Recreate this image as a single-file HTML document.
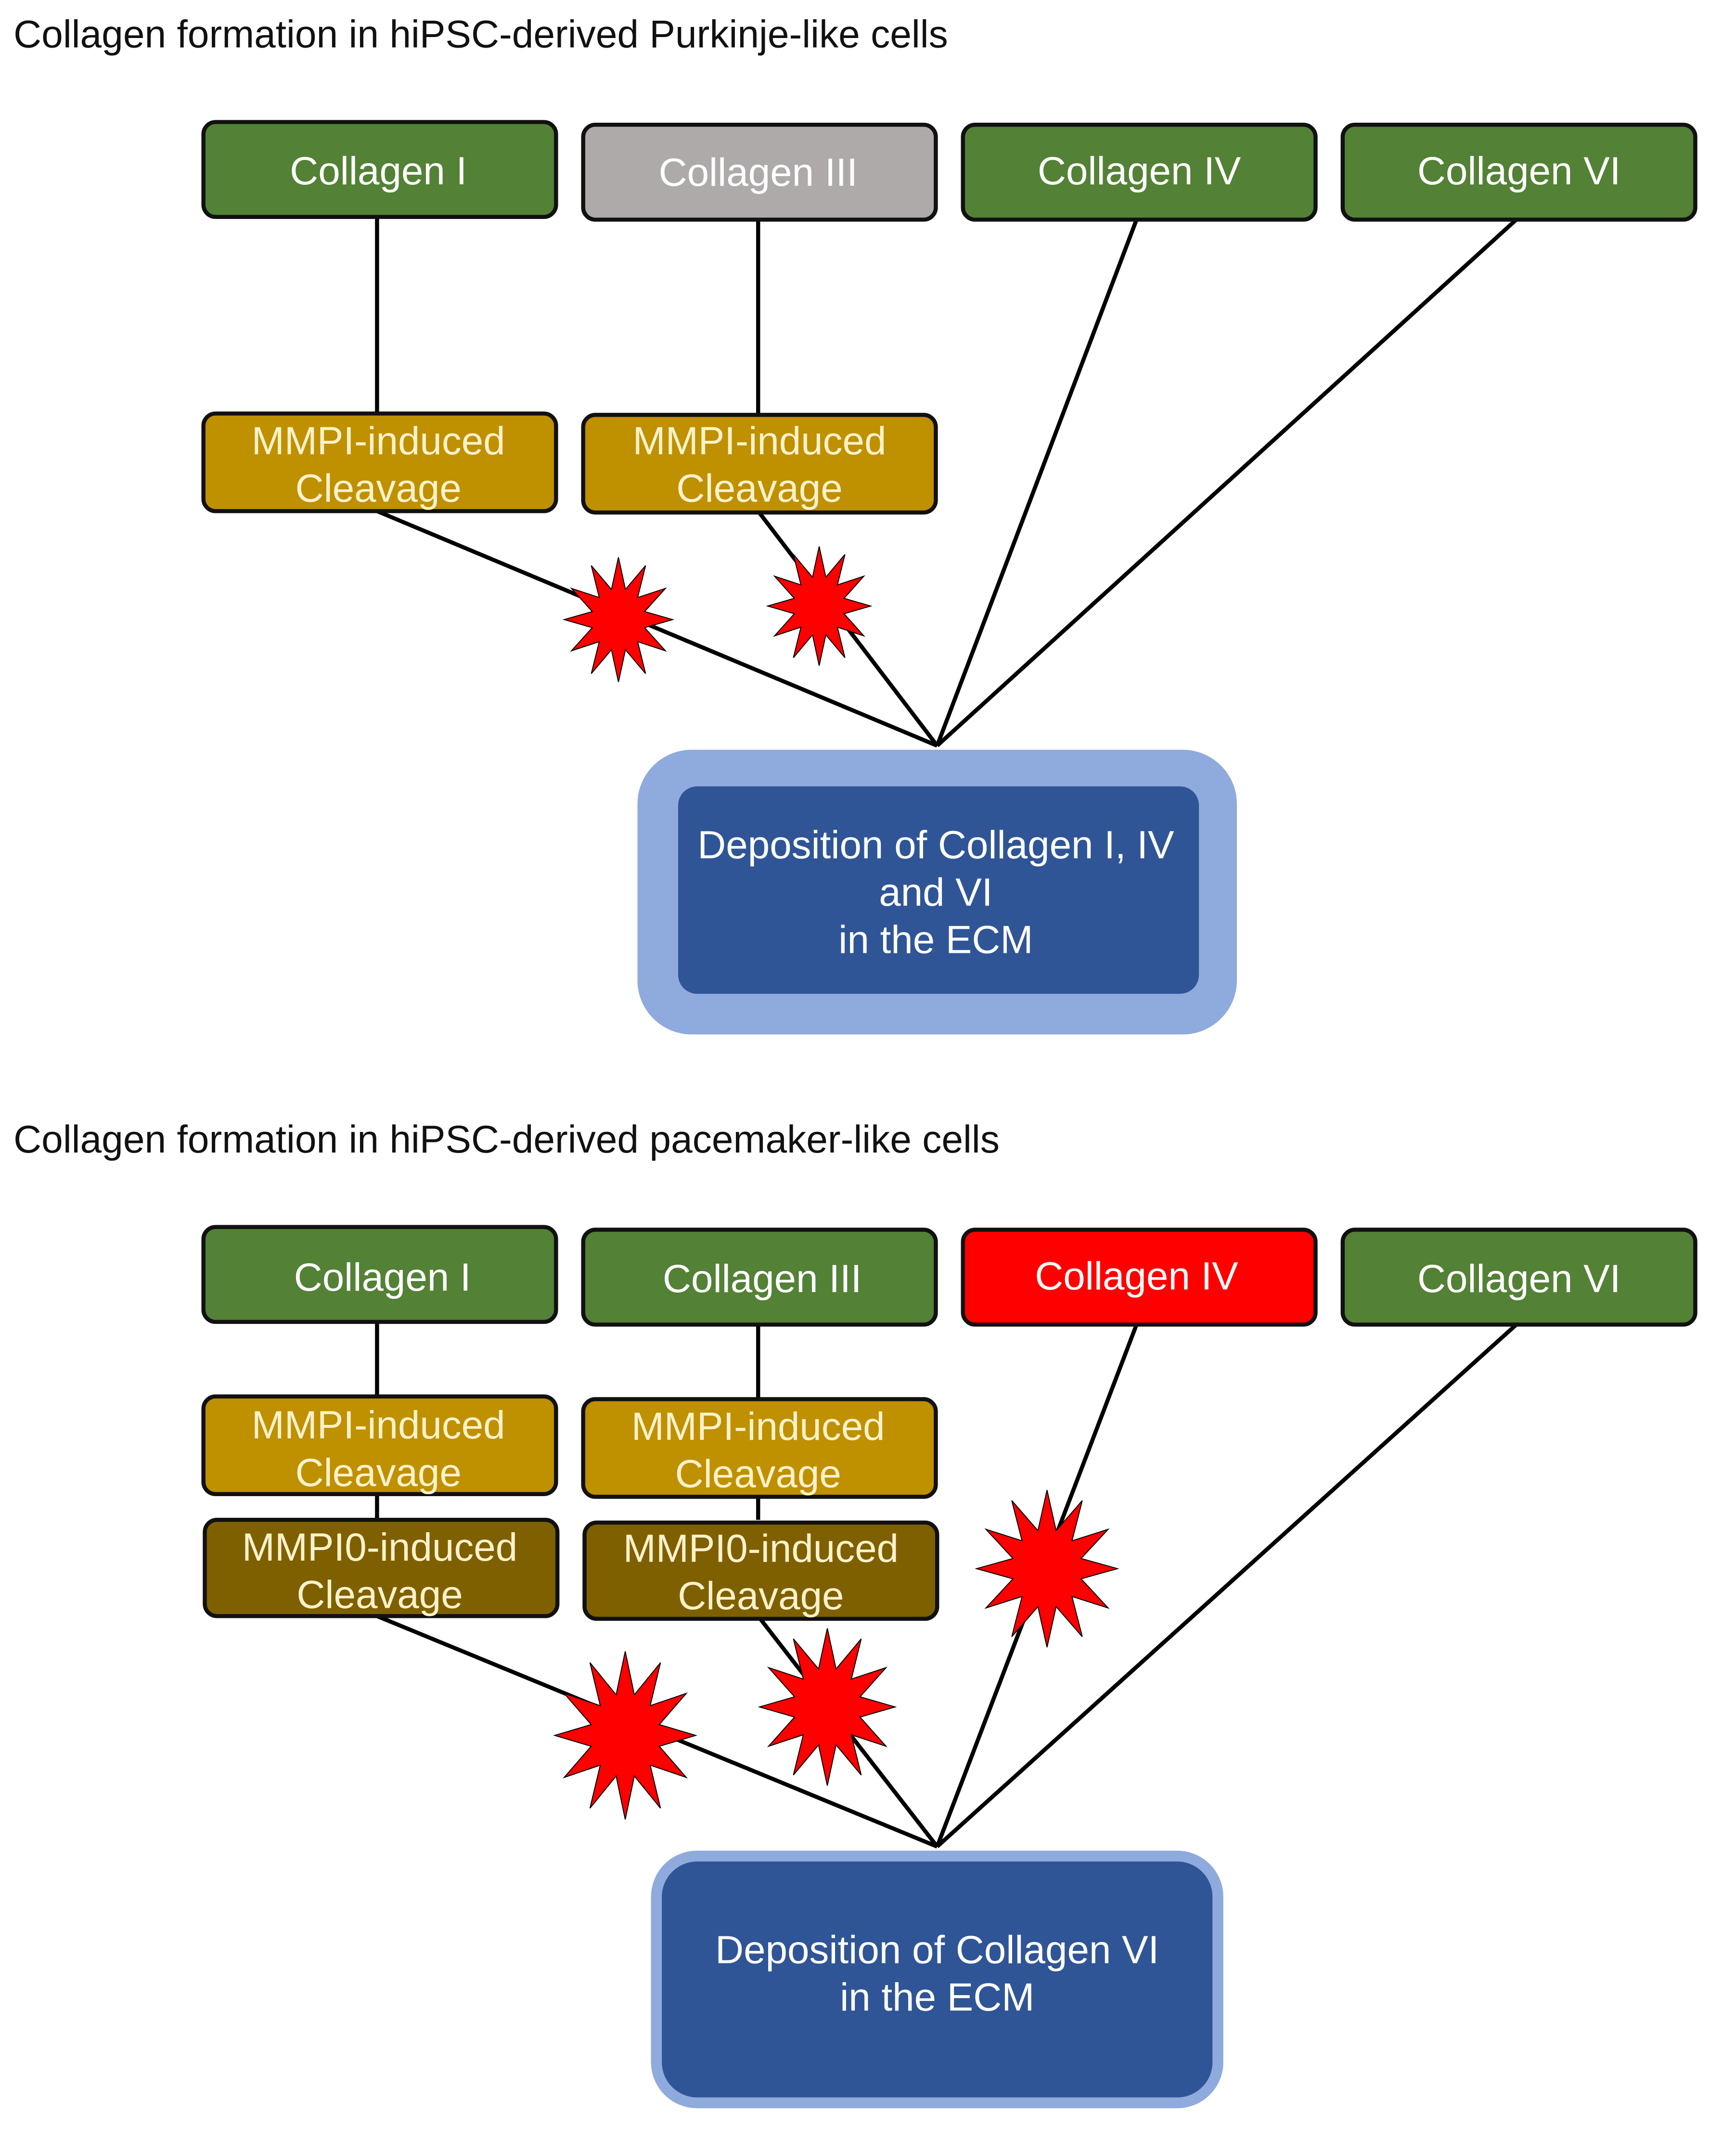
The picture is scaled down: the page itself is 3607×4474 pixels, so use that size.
<!DOCTYPE html>
<html><head><meta charset="utf-8"><style>
html,body{margin:0;padding:0;background:#fff;}
svg{display:block;}
text{font-family:"Liberation Sans",Arial,sans-serif;}
</style></head><body>
<svg width="3607" height="4474" viewBox="0 0 1280 1588" preserveAspectRatio="none" xmlns="http://www.w3.org/2000/svg">
<defs>
<polygon id="st" points="0,-1 0.129,-0.483 0.5,-0.866 0.354,-0.354 0.866,-0.5 0.483,-0.129 1,0 0.483,0.129 0.866,0.5 0.354,0.354 0.5,0.866 0.129,0.483 0,1 -0.129,0.483 -0.5,0.866 -0.354,0.354 -0.866,0.5 -0.483,0.129 -1,0 -0.483,-0.129 -0.866,-0.5 -0.354,-0.354 -0.5,-0.866 -0.129,-0.483" fill="#ff0000" stroke="#000" stroke-width="2" vector-effect="non-scaling-stroke"/>
</defs>
<text x="10" y="35" font-size="28.5" fill="#111">Collagen formation in hiPSC-derived Purkinje-like cells</text>
<g stroke="#000" stroke-width="3">
<line x1="278" y1="160" x2="278" y2="305"/>
<line x1="559" y1="162" x2="559" y2="306"/>
<line x1="278" y1="377" x2="691" y2="550"/>
<line x1="559" y1="377" x2="691" y2="550"/>
<line x1="838" y1="162" x2="691" y2="550"/>
<line x1="1118" y1="162" x2="691" y2="550"/>
</g>
<g stroke="#111" stroke-width="3">
<rect x="150" y="90" width="260" height="70" rx="9" fill="#538135"/>
<rect x="430" y="92" width="260" height="70" rx="9" fill="#aeaaaa"/>
<rect x="710" y="92" width="260" height="70" rx="9" fill="#538135"/>
<rect x="990" y="92" width="260" height="70" rx="9" fill="#538135"/>
<rect x="150" y="305" width="260" height="72" rx="9" fill="#bf9000"/>
<rect x="430" y="306" width="260" height="72" rx="9" fill="#bf9000"/>
</g>
<g font-size="29" fill="#fff" text-anchor="middle">
<text x="279" y="136">Collagen I</text>
<text x="559" y="137">Collagen III</text>
<text x="840" y="136">Collagen IV</text>
<text x="1120" y="136">Collagen VI</text>
</g>
<g font-size="29" fill="#fff2cc" text-anchor="middle">
<text x="279" y="335">MMPI-induced</text><text x="279" y="370">Cleavage</text>
<text x="560" y="335">MMPI-induced</text><text x="560" y="370">Cleavage</text>
</g>
<use href="#st" transform="translate(456,457) scale(40,46)"/>
<use href="#st" transform="translate(604,447) scale(38,44)"/>
<rect x="470" y="553" width="442" height="210" rx="40" fill="#8faadc"/>
<rect x="500" y="580" width="384" height="153" rx="14" fill="#2f5597"/>
<g font-size="29" fill="#fff" text-anchor="middle">
<text x="690" y="633">Deposition of Collagen I, IV</text>
<text x="690" y="668">and VI</text>
<text x="690" y="703">in the ECM</text>
</g>

<text x="10" y="850" font-size="28.5" fill="#111">Collagen formation in hiPSC-derived pacemaker-like cells</text>
<g stroke="#000" stroke-width="3">
<line x1="278" y1="975" x2="278" y2="1121"/>
<line x1="559" y1="977" x2="559" y2="1121"/>
<line x1="278" y1="1192" x2="691" y2="1362"/>
<line x1="559" y1="1192" x2="691" y2="1362"/>
<line x1="838" y1="977" x2="691" y2="1362"/>
<line x1="1118" y1="977" x2="691" y2="1362"/>
</g>
<g stroke="#111" stroke-width="3">
<rect x="150" y="905" width="260" height="70" rx="9" fill="#538135"/>
<rect x="430" y="907" width="260" height="70" rx="9" fill="#538135"/>
<rect x="710" y="907" width="260" height="70" rx="9" fill="#ff0000"/>
<rect x="990" y="907" width="260" height="70" rx="9" fill="#538135"/>
<rect x="150" y="1030" width="260" height="72" rx="9" fill="#bf9000"/>
<rect x="430" y="1032" width="260" height="72" rx="9" fill="#bf9000"/>
<rect x="151" y="1121" width="260" height="71" rx="9" fill="#7f6000"/>
<rect x="431" y="1123" width="260" height="71" rx="9" fill="#7f6000"/>
</g>
<g font-size="29" fill="#fff" text-anchor="middle">
<text x="282" y="952">Collagen I</text>
<text x="562" y="953">Collagen III</text>
<text x="838" y="951">Collagen IV</text>
<text x="1120" y="953">Collagen VI</text>
</g>
<g font-size="29" fill="#fff2cc" text-anchor="middle">
<text x="279" y="1061">MMPI-induced</text><text x="279" y="1096">Cleavage</text>
<text x="559" y="1062">MMPI-induced</text><text x="559" y="1097">Cleavage</text>
<text x="280" y="1151">MMPI0-induced</text><text x="280" y="1186">Cleavage</text>
<text x="561" y="1152">MMPI0-induced</text><text x="561" y="1187">Cleavage</text>
</g>
<use href="#st" transform="translate(461,1280) scale(52,62)"/>
<use href="#st" transform="translate(610,1259) scale(50,58)"/>
<use href="#st" transform="translate(772,1157) scale(52,58)"/>
<rect x="484" y="1369" width="414" height="182" rx="30" fill="#2f5597" stroke="#8faadc" stroke-width="8"/>
<g font-size="29" fill="#fff" text-anchor="middle">
<text x="691" y="1448">Deposition of Collagen VI</text>
<text x="691" y="1483">in the ECM</text>
</g>
</svg>
</body></html>
